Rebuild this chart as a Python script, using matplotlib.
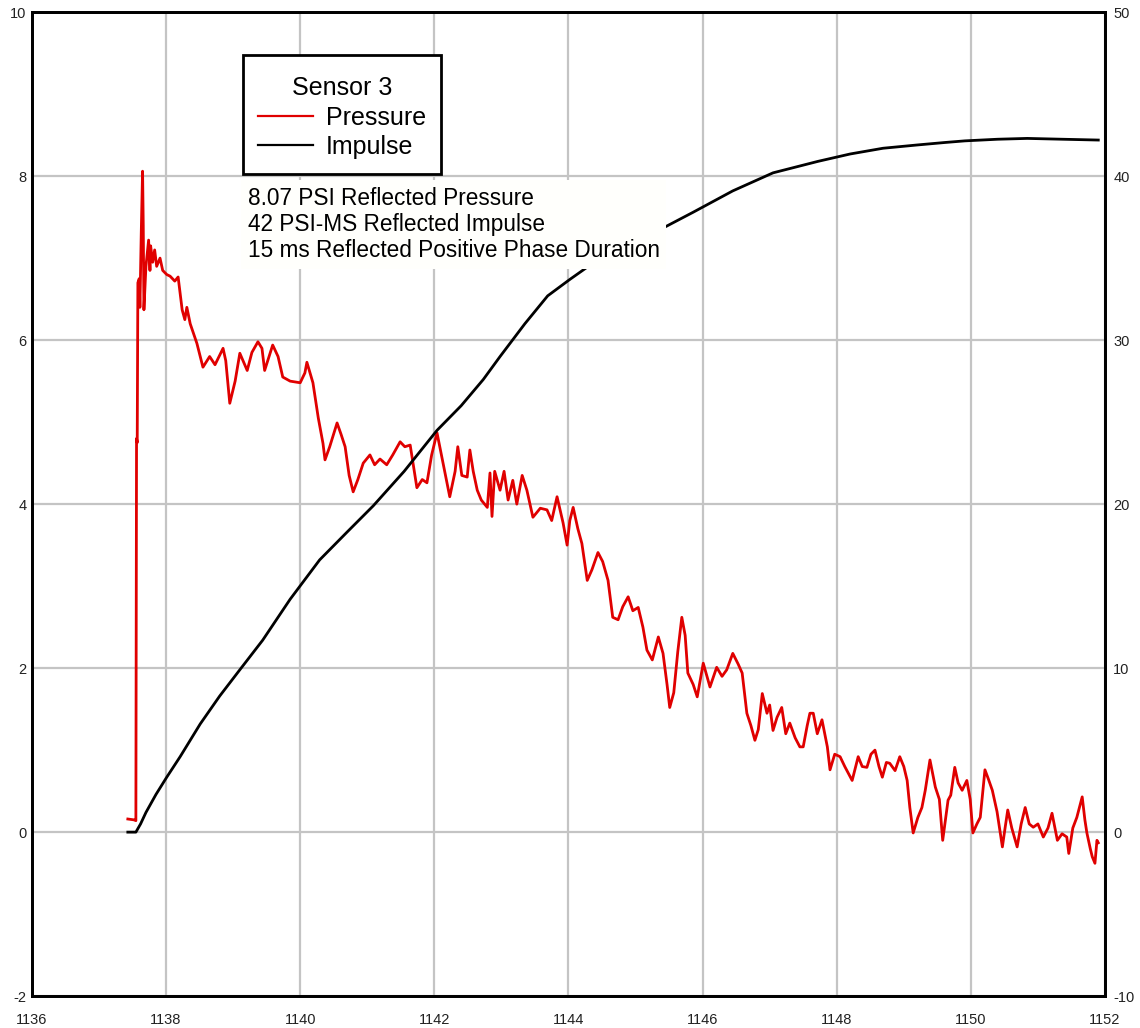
import matplotlib
matplotlib.use('Agg')
import matplotlib.pyplot as plt
from matplotlib.lines import Line2D
from matplotlib.offsetbox import PaddedBox

plt.rcParams['font.family'] = ['Liberation Sans', 'DejaVu Sans']
plt.rcParams['axes.unicode_minus'] = False

# Sensor 3 pressure trace (PSI) vs time (ms)
t_press = [1137.43, 1137.52, 1137.55, 1137.56, 1137.57, 1137.58, 1137.60, 1137.61,
           1137.63, 1137.65, 1137.66, 1137.67, 1137.70, 1137.74, 1137.76, 1137.77,
           1137.80, 1137.83, 1137.86, 1137.91, 1137.95, 1138.01, 1138.06, 1138.13,
           1138.18, 1138.24, 1138.28, 1138.31, 1138.36, 1138.46, 1138.55, 1138.65,
           1138.73, 1138.85, 1138.89, 1138.95, 1139.03, 1139.10, 1139.21, 1139.28,
           1139.37, 1139.43, 1139.47, 1139.59, 1139.67, 1139.74, 1139.85, 1140.00,
           1140.07, 1140.10, 1140.19, 1140.27, 1140.34, 1140.37, 1140.44, 1140.55,
           1140.61, 1140.67, 1140.73, 1140.79, 1140.86, 1140.94, 1141.04, 1141.11,
           1141.19, 1141.29, 1141.38, 1141.49, 1141.56, 1141.64, 1141.74, 1141.82,
           1141.89, 1141.96, 1142.04, 1142.13, 1142.23, 1142.31, 1142.35, 1142.41,
           1142.49, 1142.53, 1142.58, 1142.64, 1142.70, 1142.79, 1142.83, 1142.86,
           1142.90, 1142.98, 1143.04, 1143.10, 1143.17, 1143.23, 1143.31, 1143.38,
           1143.47, 1143.58, 1143.68, 1143.75, 1143.83, 1143.92, 1143.98, 1144.02,
           1144.07, 1144.14, 1144.20, 1144.28, 1144.35, 1144.44, 1144.51, 1144.59,
           1144.66, 1144.74, 1144.81, 1144.89, 1144.96, 1145.04, 1145.11, 1145.17,
           1145.25, 1145.34, 1145.41, 1145.47, 1145.51, 1145.57, 1145.63, 1145.69,
           1145.74, 1145.78, 1145.86, 1145.92, 1146.01, 1146.11, 1146.21, 1146.29,
           1146.36, 1146.45, 1146.53, 1146.59, 1146.66, 1146.72, 1146.78, 1146.83,
           1146.89, 1146.96, 1147.00, 1147.05, 1147.11, 1147.18, 1147.24, 1147.30,
           1147.38, 1147.45, 1147.50, 1147.56, 1147.60, 1147.65, 1147.71, 1147.78,
           1147.86, 1147.90, 1147.97, 1148.05, 1148.12, 1148.23, 1148.32, 1148.38,
           1148.45, 1148.51, 1148.57, 1148.63, 1148.68, 1148.74, 1148.79, 1148.87,
           1148.94, 1149.00, 1149.05, 1149.09, 1149.14, 1149.21, 1149.27, 1149.32,
           1149.39, 1149.47, 1149.53, 1149.58, 1149.66, 1149.70, 1149.76, 1149.81,
           1149.87, 1149.94, 1149.99, 1150.03, 1150.09, 1150.14, 1150.21, 1150.26,
           1150.32, 1150.39, 1150.47, 1150.51, 1150.55, 1150.61, 1150.69, 1150.75,
           1150.81, 1150.87, 1150.93, 1151.00, 1151.08, 1151.15, 1151.21, 1151.29,
           1151.36, 1151.43, 1151.46, 1151.52, 1151.58, 1151.66, 1151.70, 1151.73,
           1151.78, 1151.81, 1151.85, 1151.88, 1151.90]
pressure = [0.16, 0.15, 0.14, 4.80, 4.75, 6.70, 6.75, 6.40,
            7.30, 8.06, 7.40, 6.37, 6.90, 7.22, 6.85, 7.15,
            6.95, 7.10, 6.90, 7.00, 6.85, 6.80, 6.78, 6.72,
            6.77, 6.37, 6.25, 6.40, 6.20, 5.96, 5.67, 5.80,
            5.70, 5.90, 5.75, 5.23, 5.50, 5.84, 5.63, 5.85,
            5.98, 5.90, 5.63, 5.94, 5.80, 5.55, 5.50, 5.48,
            5.60, 5.73, 5.48, 5.05, 4.74, 4.54, 4.70, 4.99,
            4.85, 4.70, 4.35, 4.15, 4.30, 4.50, 4.60, 4.48,
            4.55, 4.48, 4.60, 4.76, 4.70, 4.72, 4.20, 4.30,
            4.26, 4.60, 4.87, 4.50, 4.09, 4.40, 4.70, 4.35,
            4.33, 4.66, 4.40, 4.17, 4.05, 3.96, 4.38, 3.85,
            4.40, 4.17, 4.40, 4.05, 4.29, 4.00, 4.35, 4.17,
            3.84, 3.95, 3.93, 3.80, 4.09, 3.77, 3.50, 3.80,
            3.96, 3.70, 3.52, 3.07, 3.20, 3.41, 3.30, 3.07,
            2.62, 2.59, 2.75, 2.87, 2.70, 2.74, 2.50, 2.22,
            2.10, 2.38, 2.18, 1.80, 1.52, 1.70, 2.20, 2.62,
            2.40, 1.94, 1.80, 1.65, 2.06, 1.77, 2.01, 1.90,
            1.98, 2.18, 2.05, 1.94, 1.45, 1.30, 1.12, 1.25,
            1.69, 1.45, 1.55, 1.24, 1.40, 1.52, 1.20, 1.33,
            1.15, 1.04, 1.04, 1.30, 1.45, 1.45, 1.20, 1.37,
            1.04, 0.76, 0.95, 0.92, 0.80, 0.63, 0.92, 0.80,
            0.79, 0.95, 1.00, 0.80, 0.67, 0.85, 0.84, 0.75,
            0.92, 0.80, 0.63, 0.30, -0.01, 0.18, 0.30, 0.51,
            0.88, 0.55, 0.40, -0.10, 0.39, 0.45, 0.79, 0.60,
            0.51, 0.63, 0.40, -0.01, 0.10, 0.18, 0.76, 0.65,
            0.51, 0.25, -0.18, 0.05, 0.27, 0.05, -0.18, 0.10,
            0.30, 0.10, 0.06, 0.10, -0.06, 0.05, 0.23, -0.10,
            -0.02, -0.06, -0.26, 0.05, 0.18, 0.43, 0.15, -0.01,
            -0.20, -0.30, -0.38, -0.10, -0.13]

# Cumulative impulse (PSI-ms)
t_imp = [1137.43, 1137.55, 1137.62, 1137.70, 1137.85, 1138.01, 1138.21, 1138.51,
         1138.80, 1139.10, 1139.44, 1139.85, 1140.29, 1140.70, 1141.09, 1141.55,
         1142.04, 1142.40, 1142.73, 1142.98, 1143.35, 1143.69, 1144.02, 1144.47,
         1144.92, 1145.44, 1145.86, 1146.45, 1147.05, 1147.72, 1148.20, 1148.69,
         1149.20, 1149.61, 1149.91, 1150.40, 1150.84, 1151.36, 1151.90]
impulse = [0.0, 0.0, 0.5, 1.2, 2.3, 3.35, 4.6, 6.6,
           8.3, 9.9, 11.7, 14.2, 16.6, 18.3, 19.9, 22.0,
           24.5, 26.0, 27.6, 29.0, 31.0, 32.7, 33.7, 35.0,
           36.0, 36.9, 37.8, 39.1, 40.2, 40.9, 41.35, 41.7,
           41.9, 42.05, 42.15, 42.25, 42.3, 42.25, 42.2]

x_ticks = [1136, 1138, 1140, 1142, 1144, 1146, 1148, 1150, 1152]
p_ticks = [-2, 0, 2, 4, 6, 8, 10]
i_ticks = [-10, 0, 10, 20, 30, 40, 50]

summary = ('8.07 PSI Reflected Pressure\n'
           '42 PSI-MS Reflected Impulse\n'
           '15 ms Reflected Positive Phase Duration')

RED = '#E00000'
GRID = '#C4C4C4'
TICK = '#222222'

fig = plt.figure(figsize=(11.4, 10.28), dpi=100)
ax = fig.add_axes([0.028, 0.031, 0.9413, 0.9572])
ax2 = ax.twinx()

ax.plot(t_press, pressure, color=RED, lw=2.0, zorder=3)
ax2.plot(t_imp, impulse, color='black', lw=2.0, zorder=3)

ax.set_xlim(1136, 1152)
ax.set_ylim(-2, 10)
ax2.set_ylim(-10, 50)
ax.set_xticks(x_ticks)
ax.set_yticks(p_ticks)
ax2.set_yticks(i_ticks)
ax.grid(True, color=GRID, lw=1.6)
ax.set_axisbelow(True)

for a in (ax, ax2):
    a.tick_params(length=0, labelsize=10.5, labelcolor=TICK)
    for s in a.spines.values():
        s.set_linewidth(2.0)
        s.set_color('black')
ax.tick_params(axis='y', pad=4)
ax.tick_params(axis='x', pad=12)
ax2.tick_params(axis='y', pad=6)

handles = [Line2D([], [], color=RED, lw=1.6), Line2D([], [], color='black', lw=1.6)]
leg = ax2.legend(handles, ['Pressure', 'Impulse'], title='Sensor 3',
                 loc='upper left', bbox_to_anchor=(0.197, 0.956),
                 borderaxespad=0, fontsize=18, title_fontsize=18,
                 handlelength=2.2, handletextpad=0.5, labelspacing=0.22,
                 borderpad=0.6, fancybox=False, framealpha=1,
                 edgecolor='black')
leg.get_frame().set_linewidth(2.0)
# extra room above and below the title only
box = leg._legend_box
box._children[0] = PaddedBox(box._children[0], pad=4)
box.sep = 0
box.set_figure(fig)
leg.set_zorder(10)

ax2.text(0.201, 0.822, summary, transform=ax2.transAxes, ha='left', va='top',
         fontsize=16.3, linespacing=1.17, color='black', zorder=9,
         bbox=dict(boxstyle='square,pad=0.3', facecolor='#FFFFFC', edgecolor='none'))

fig.savefig('out.png', dpi=100, facecolor='white')
